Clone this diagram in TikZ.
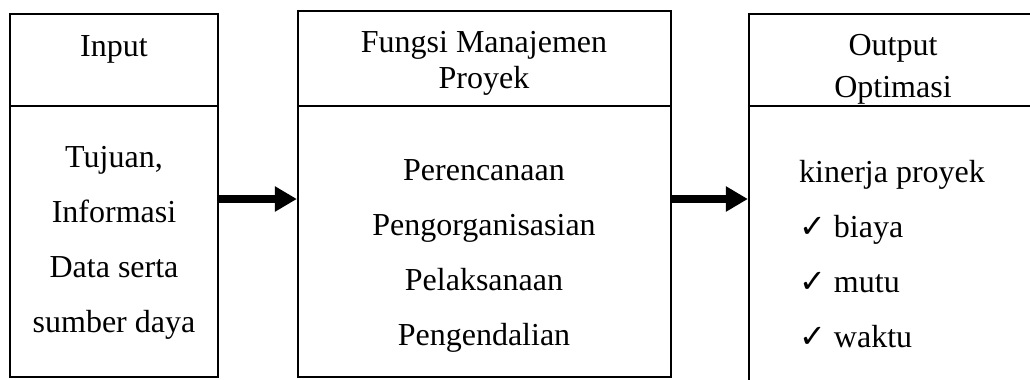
\documentclass[tikz,border=0pt]{standalone}
\usepackage{fontspec}
\setmainfont{Liberation Serif}
\newfontfamily\simbol{DejaVu Sans}
\usetikzlibrary{arrows.meta}

\tikzset{every picture/.style={line width=1.7pt}}
\tikzset{
  kotak/.style={draw, inner sep=0pt},
  judul/.style={inner sep=0.75pt, align=center, font=\fontsize{24}{27}\selectfont},
  isi/.style={inner sep=0.75pt, font=\fontsize{24}{41.25}\selectfont},
  panah/.style={line width=5.4pt, -{Triangle[length=16.5pt,width=18pt]}},
}
\newcommand{\centang}{{\simbol\fontsize{24}{24}\selectfont ✓}\hspace{6pt}}

\begin{document}
\begin{tikzpicture}[x=0.75pt,y=0.75pt,yscale=-1,xscale=1]
\useasboundingbox (0,0) rectangle (1030,379);
\coordinate (garis) at (0,106);
\coordinate (tengah) at (0,199);

%Shape: Rectangle
\node[kotak, minimum width=156pt, minimum height=272.25pt] (input) at (114,195.5) {};
%Shape: Rectangle
\node[kotak, minimum width=279.75pt, minimum height=274.5pt] (fungsi) at (484.5,194) {};
%Shape: Rectangle
\node[kotak, minimum width=216pt, minimum height=278.25pt] (output) at (893,199.5) {};

%Straight Lines
\draw (input.west |- garis) -- (input.east |- garis) ;
%Straight Lines
\draw (fungsi.west |- garis) -- (fungsi.east |- garis) ;
%Straight Lines
\draw (output.west |- garis) -- (output.east |- garis) ;

%Straight Lines
\draw [panah] (input.east |- tengah) -- (fungsi.west |- tengah) ;
%Straight Lines
\draw [panah] (fungsi.east |- tengah) -- (output.west |- tengah) ;

% Text Node
\node [judul] (tInput) at (114,49) {Input};
% Text Node
\node [judul] (tFungsi) at (484,63) {Fungsi Manajemen\\Proyek};
% Text Node
\node [judul, font=\fontsize{24}{31.5}\selectfont] (tOutput) at (893,69) {Output\\Optimasi};
% Text Node
\node [isi, align=center] (iInput) at (114,243) {Tujuan,\\Informasi\\Data serta\\sumber daya};
% Text Node
\node [isi, align=center] (iFungsi) at (484,255.5) {Perencanaan\\Pengorganisasian\\Pelaksanaan\\Pengendalian};
% Text Node
\node [isi, align=left, anchor=west] (iOutput) at (797,254) {kinerja proyek\\\centang biaya\\\centang mutu\\\centang waktu};

\end{tikzpicture}
\end{document}
